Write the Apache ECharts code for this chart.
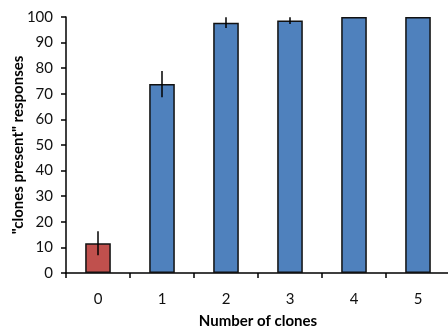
<!DOCTYPE html>
<html><head><meta charset="utf-8">
<script src="https://cdn.jsdelivr.net/npm/echarts@6/dist/echarts.min.js"></script>
<style>html,body{margin:0;padding:0;background:#fff}#c{width:448px;height:329px}</style>
</head><body><div id="c"></div>
<script>
const categories = ['0','1','2','3','4','5'];
const values = [11.6, 73.8, 97.8, 98.6, 100, 100];
const errors = [4.7, 5.1, 2.1, 1.3, 0, 0];
const barColors = ['#C0504D','#4F81BD','#4F81BD','#4F81BD','#4F81BD','#4F81BD'];
const yTicks = [0,10,20,30,40,50,60,70,80,90,100];

const font = 'Lato, "Open Sans", sans-serif';
const chart = echarts.init(document.getElementById('c'), null, {renderer:'canvas'});
chart.setOption({
  animation:false,
  grid:{left:66, right:-2, top:17, bottom:56, containLabel:false, outerBoundsMode:'none'},
  xAxis:{type:'category', data:categories,
    name:'Number of clones', nameLocation:'middle', nameGap:41, nameMoveOverlap:false,
    nameTextStyle:{fontFamily:font, fontWeight:'bold', fontSize:15, color:'#000'},
    axisLine:{lineStyle:{color:'#000', width:1.5}},
    axisTick:{show:true, length:5, lineStyle:{color:'#000', width:1.5}},
    axisLabel:{fontFamily:font, fontSize:15, color:'#111', margin:19}
  },
  yAxis:{type:'value', min:0, max:100, interval:10,
    name:'"clones present" responses', nameLocation:'middle', nameGap:40, nameRotate:90, nameMoveOverlap:false,
    nameTextStyle:{fontFamily:font, fontWeight:'bold', fontSize:15, color:'#000'},
    axisLine:{show:true, lineStyle:{color:'#000', width:1.5}},
    axisTick:{show:true, length:5, lineStyle:{color:'#000', width:1.5}},
    splitLine:{show:false},
    axisLabel:{fontFamily:font, fontSize:15, color:'#111', margin:13,
      formatter:v=> yTicks.includes(v)? String(v):''}
  },
  series:[{
    type:'bar', barWidth:'40%',
    data: values.map((v,i)=>({value:v, itemStyle:{color:barColors[i]}})),
    itemStyle:{borderColor:'#111', borderWidth:1.5}
  },{
    type:'custom',
    data: values.map((v,i)=>[i, v, errors[i]]),
    z:10,
    renderItem:(params, api)=>{
      const x = api.value(0), v = api.value(1), e = api.value(2);
      if(!e) return null;
      const top = api.coord([x, v+e]);
      const bot = api.coord([x, v-e]);
      return {type:'line', shape:{x1:top[0], y1:top[1], x2:bot[0], y2:bot[1]},
        style:{stroke:'#000', lineWidth:1.5}};
    }
  }]
});
</script></body></html>
